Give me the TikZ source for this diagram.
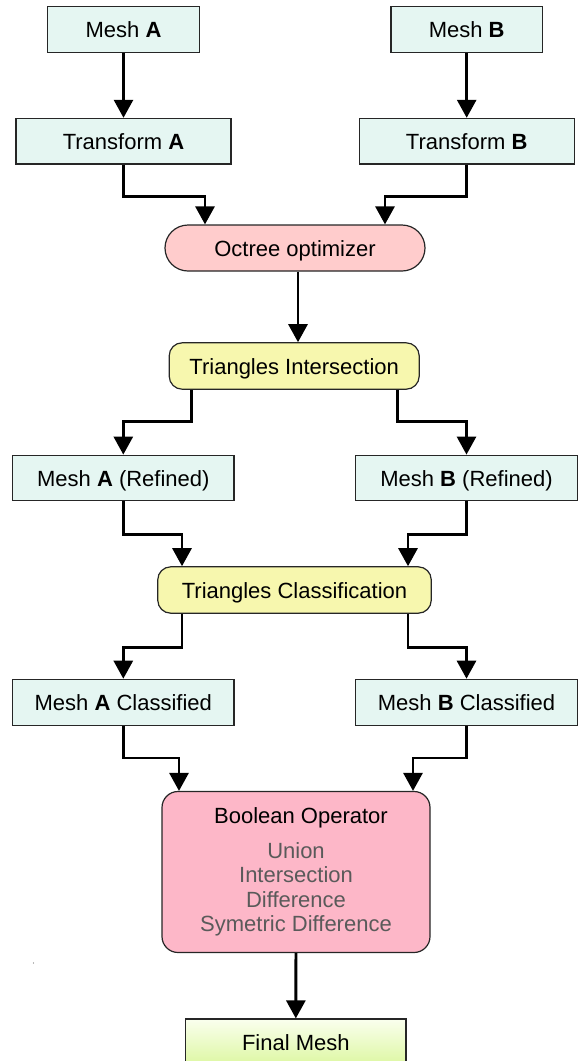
\documentclass[tikz,border=0pt]{standalone}
\usepackage{fontspec}
\setmainfont{Liberation Sans}
\usetikzlibrary{arrows.meta}

\definecolor{meshfill}{HTML}{E5F6F2}
\definecolor{octfill}{HTML}{FFCCCC}
\definecolor{procfill}{HTML}{F7F7AE}
\definecolor{boolfill}{HTML}{FDB7C8}
\definecolor{finaltop}{HTML}{FAFFEE}
\definecolor{finalbot}{HTML}{DDF7A2}
\definecolor{optext}{HTML}{5A5A5A}

\begin{document}
\begin{tikzpicture}[x=1pt,y=-1pt,
		font=\fontsize{22}{24.5}\selectfont,
		box/.style={draw=black!85,line width=1.2pt,inner sep=0pt},
		line/.style={box,minimum height=45.6pt,text height=16pt,text depth=0pt},
		mesh/.style={line,fill=meshfill},
		proc/.style={line,fill=procfill,rounded corners=13pt,minimum height=46.4pt},
		arr/.style={-{Triangle[length=18pt,width=19pt]},line width=2.8pt}]
			\useasboundingbox (0,0) rectangle (578,1061);
			\clip (0,0) rectangle (578,1061);
			
			\node[mesh,minimum width=151.6pt] (meshA) at (123.5,29.5) {Mesh \textbf{A}};
			\node[mesh,minimum width=151.6pt] (meshB) at (466.7,29.5) {Mesh \textbf{B}};
			\node[mesh,minimum width=215pt] (transA) at (123.5,141.2) {Transform \textbf{A}};
			\node[mesh,minimum width=215pt] (transB) at (466.7,141.2) {Transform \textbf{B}};
			\node[line,fill=octfill,rounded corners=23pt,minimum width=260pt,minimum height=46pt] (oct) at (295,248) {Octree optimizer};
			\node[proc,minimum width=250pt] (ti) at (294.2,366) {Triangles Intersection};
			\node[mesh,minimum width=221.4pt] (refA) at (123.3,478) {Mesh \textbf{A} (Refined)};
			\node[mesh,minimum width=221.4pt] (refB) at (466.5,478) {Mesh \textbf{B} (Refined)};
			\node[proc,minimum width=273.5pt] (tc) at (294.5,590) {Triangles Classification};
			\node[mesh,minimum width=221.4pt,minimum height=46.4pt] (clsA) at (123.3,702.5) {Mesh \textbf{A} Classified};
			\node[mesh,minimum width=221.4pt,minimum height=46.4pt] (clsB) at (466.5,702.5) {Mesh \textbf{B} Classified};
			\node[box,fill=boolfill,text=optext,rounded corners=16pt,minimum width=268pt,minimum height=161pt,align=center] (boolop) at (296,872)
				{\hspace*{10pt}\textcolor{black}{Boolean Operator}\\[10.5pt]Union\\Intersection\\Difference\\Symetric Difference};
			\node[line,top color=finaltop,bottom color=finalbot,minimum width=220.3pt,minimum height=46pt] (final) at (295.8,1042) {Final Mesh};
			
			\fill[black!55] (33.5,963) circle[radius=0.7pt];
			
			\path[arr]
			(meshA) edge (transA)
			(meshB) edge (transB)
			(boolop) edge (final);
			
			\draw[arr] (transA.south) -- ++(0,32) -| ([xshift=-90pt]oct.north);
			\draw[arr] (transB.south) -- ++(0,32) -| ([xshift=90pt]oct.north);
			\draw[arr] ([xshift=3pt]oct.south) -- ([xshift=3pt]oct.south |- ti.north);
			\draw[arr] ([xshift=-102.5pt]ti.south) -- ++(0,32) -| (refA.north);
			\draw[arr] ([xshift=103.5pt]ti.south) -- ++(0,32) -| (refB.north);
			\draw[arr] (refA.south) -- ++(0,33) -| ([xshift=-112.5pt]tc.north);
			\draw[arr] (refB.south) -- ++(0,33) -| ([xshift=113.5pt]tc.north);
			\draw[arr] ([xshift=-112.5pt]tc.south) -- ++(0,34) -| (clsA.north);
			\draw[arr] ([xshift=113.5pt]tc.south) -- ++(0,34) -| (clsB.north);
			\draw[arr] (clsA.south) -- ++(0,31.6) -| ([xshift=-117pt]boolop.north);
			\draw[arr] (clsB.south) -- ++(0,31.6) -| ([xshift=117pt]boolop.north);
		\end{tikzpicture}
\end{document}
